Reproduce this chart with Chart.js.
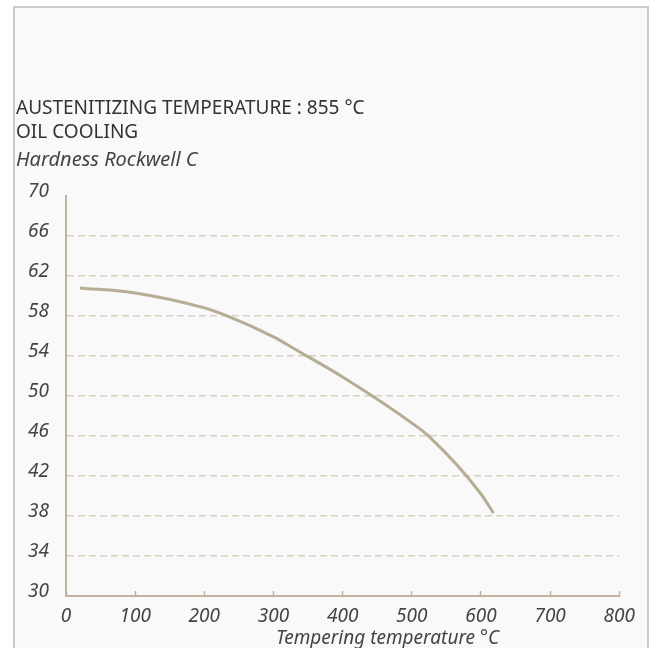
<!DOCTYPE html>
<html>
<head>
<meta charset="utf-8">
<script src="https://cdn.jsdelivr.net/npm/chart.js@4"></script>
<style>
  html, body { margin: 0; padding: 0; background: #fff; }
  body { width: 649px; height: 648px; position: relative; overflow: hidden; }
  .frame {
    position: absolute; left: 13px; top: 6px; width: 632px; height: 660px;
    background: #f9f9f9; border: 2px solid #cacaca; border-bottom: none;
  }
  #chart { position: absolute; left: 0; top: 0; }
</style>
</head>
<body>
<div class="frame"></div>
<canvas id="chart" width="649" height="648"></canvas>
<script>
// tempering curve
const temperatures = [20, 100, 200, 233, 300, 333, 400, 500, 524, 600, 618];
const hardness = [60.8, 60.3, 58.8, 58.0, 55.9, 54.6, 51.9, 47.3, 46.0, 40.2, 38.3];

const titleLines = ['AUSTENITIZING TEMPERATURE : 855 °C', 'OIL COOLING'];
const yTitle = 'Hardness Rockwell C';
const xTitle = 'Tempering temperature °C';

const FONT = "'Noto Sans', sans-serif";
const axisColor = '#bdb39f';
const lineColor = '#b7ac94';

// x axis title sits right of centre in the original
const xTitlePlugin = {
  id: 'xTitle',
  afterDraw(chart) {
    const ctx = chart.ctx;
    const area = chart.chartArea;
    ctx.save();
    ctx.font = 'italic 19px ' + FONT;
    ctx.fillStyle = '#444';
    ctx.textAlign = 'center';
    ctx.textBaseline = 'middle';
    ctx.fillText(xTitle, area.left + (area.right - area.left) / 2 + 45, 639);
    ctx.restore();
  }
};

new Chart(document.getElementById('chart'), {
  type: 'line',
  data: {
    datasets: [{
      data: temperatures.map((t, i) => ({ x: t, y: hardness[i] })),
      borderColor: lineColor,
      borderWidth: 3,
      pointRadius: 0,
      fill: false,
      cubicInterpolationMode: 'monotone'
    }]
  },
  options: {
    responsive: false,
    animation: false,
    layout: { padding: { left: 16, right: 25, top: 0, bottom: 0 } },
    plugins: {
      legend: { display: false },
      tooltip: { enabled: false },
      title: {
        display: true,
        text: titleLines,
        align: 'start',
        color: '#333',
        font: { family: FONT, size: 19, weight: 'normal', lineHeight: 1.25 },
        padding: { top: 97, bottom: 0 }
      },
      subtitle: {
        display: true,
        text: yTitle,
        align: 'start',
        color: '#444',
        font: { family: FONT, size: 20, style: 'italic', lineHeight: 1.2 },
        padding: { top: 3.4, bottom: 24 }
      }
    },
    scales: {
      x: {
        type: 'linear',
        min: 0,
        max: 800,
        ticks: {
          stepSize: 100,
          padding: 14,
          color: '#444',
          font: { family: FONT, size: 19, style: 'italic' }
        },
        grid: {
          display: true,
          drawOnChartArea: false,
          drawTicks: true,
          tickLength: -5,
          tickColor: axisColor,
          tickWidth: 1.5
        },
        border: { display: true, color: axisColor, width: 2 },
        afterFit(scale) { scale.height = 52; }
      },
      y: {
        min: 30,
        max: 70,
        ticks: {
          stepSize: 4,
          padding: 17,
          labelOffset: -4,
          color: '#444',
          font: { family: FONT, size: 19, style: 'italic' }
        },
        grid: {
          drawTicks: false,
          lineWidth: 1.5,
          color: ctx => (ctx.tick && (ctx.tick.value === 30 || ctx.tick.value === 70)) ? 'rgba(0,0,0,0)' : '#d8d1bf'
        },
        border: { display: true, color: axisColor, width: 2, dash: [7, 4] },
        afterFit(scale) { scale.width = 50; }
      }
    }
  },
  plugins: [xTitlePlugin]
});
</script>
</body>
</html>
